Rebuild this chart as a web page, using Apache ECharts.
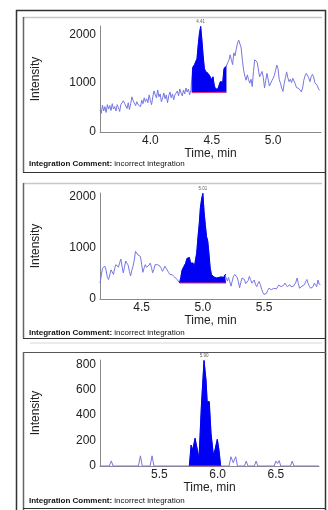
<!DOCTYPE html>
<html><head><meta charset="utf-8">
<script src="https://cdn.jsdelivr.net/npm/echarts@6/dist/echarts.min.js"></script>
<style>html,body{margin:0;padding:0;background:#fff}#c{width:328px;height:510px}</style>
</head><body><div id="c"></div>
<script>
// ---- Panel 1 : [time (min), intensity] ----
const scan1 = [[3.59,450],[3.60,380],[3.61,550],[3.62,430],[3.63,520],[3.64,400],[3.65,560],[3.66,470],[3.67,540],[3.68,440],
[3.69,580],[3.70,470],[3.71,520],[3.72,430],[3.73,560],[3.74,500],[3.75,420],[3.76,560],[3.77,520],[3.78,640],
[3.79,590],[3.80,560],[3.81,480],[3.82,600],[3.83,460],[3.84,580],[3.85,720],[3.86,640],[3.87,600],[3.88,540],
[3.89,620],[3.90,560],[3.91,600],[3.92,520],[3.93,650],[3.94,580],[3.95,700],[3.96,620],[3.97,680],[3.98,600],
[3.99,760],[4.00,650],[4.01,560],[4.02,720],[4.03,840],[4.04,760],[4.05,700],[4.06,860],[4.07,720],[4.08,780],
[4.09,620],[4.10,700],[4.11,800],[4.12,680],[4.13,760],[4.14,600],[4.15,740],[4.16,820],[4.17,700],[4.18,780],
[4.19,660],[4.20,760],[4.21,720],[4.22,840],[4.23,740],[4.24,880],[4.25,800],[4.26,740],[4.27,860],[4.28,780],
[4.29,900],[4.30,820],[4.31,880],[4.32,760],[4.33,850],[4.34,810],[4.345,1320],[4.36,1380],[4.37,1420],[4.38,1500],
[4.39,1780],[4.40,2020],[4.41,2160],[4.42,1880],[4.43,1560],[4.44,1300],[4.45,1240],[4.46,1260],[4.47,1200],[4.48,1230],
[4.49,1120],[4.50,1060],[4.51,1130],[4.52,960],[4.53,880],[4.54,860],[4.55,880],[4.56,900],[4.57,1030],[4.58,1010],
[4.59,1020],[4.60,1300],[4.61,1330],[4.62,1350],[4.63,1420],[4.64,1470],[4.65,1580],[4.66,1480],[4.67,1380],[4.68,1620],
[4.69,1560],[4.70,1700],[4.71,1820],[4.72,1880],[4.73,1910],[4.74,1720],[4.75,1460],[4.76,1260],[4.77,1140],[4.78,1060],
[4.79,1170],[4.80,1070],[4.81,1000],[4.82,1080],[4.83,930],[4.84,1240],[4.85,1480],[4.86,1450],[4.87,1430],[4.88,1420],
[4.89,1130],[4.90,1160],[4.91,1240],[4.92,1120],[4.93,900],[4.94,1060],[4.95,1200],[4.96,1170],[4.97,940],[4.98,960],
[4.99,1050],[5.00,1100],[5.01,1160],[5.02,1260],[5.03,1370],[5.04,1300],[5.05,1070],[5.06,1000],[5.07,900],[5.08,830],
[5.09,990],[5.10,1110],[5.11,1230],[5.12,1110],[5.13,1030],[5.14,1080],[5.15,1010],[5.16,1100],[5.17,1060],[5.18,990],
[5.19,910],[5.20,950],[5.21,890],[5.22,850],[5.23,820],[5.24,900],[5.25,1060],[5.26,1150],[5.27,1200],[5.28,1230],
[5.29,1110],[5.30,1030],[5.31,1130],[5.32,1180],[5.33,1130],[5.34,1010],[5.35,1020],[5.36,950],[5.37,880],[5.38,850]];
const window1 = [4.34, 4.62];      // integration start / end (min)
const baseline1 = [805, 815];      // integration baseline intensity at start / end
const peakLabel1 = '4.41';
const xTicks1 = [4.0, 4.5, 5.0];
const yTicks1 = [0, 1000, 2000];

// ---- Panel 2 ----
const scan2 = [[4.16,310],[4.17,450],[4.18,600],[4.19,620],[4.20,640],[4.21,560],[4.22,420],[4.23,380],[4.24,470],[4.25,570],
[4.26,540],[4.27,480],[4.28,600],[4.29,670],[4.30,650],[4.31,620],[4.32,700],[4.33,780],[4.34,640],[4.35,510],
[4.36,620],[4.37,740],[4.38,700],[4.39,660],[4.40,540],[4.41,450],[4.42,560],[4.43,640],[4.44,760],[4.45,930],
[4.46,900],[4.47,860],[4.48,850],[4.49,830],[4.50,680],[4.51,520],[4.52,600],[4.53,670],[4.54,620],[4.55,600],
[4.56,660],[4.57,700],[4.58,620],[4.59,510],[4.60,580],[4.61,670],[4.62,660],[4.63,670],[4.64,650],[4.65,640],
[4.66,600],[4.67,540],[4.68,580],[4.69,640],[4.70,600],[4.71,570],[4.72,520],[4.73,480],[4.74,500],[4.75,470],
[4.76,500],[4.77,430],[4.78,410],[4.79,380],[4.80,360],[4.81,315],[4.82,420],[4.83,560],[4.84,610],[4.85,640],
[4.86,700],[4.87,790],[4.88,760],[4.89,810],[4.90,700],[4.91,680],[4.92,700],[4.93,620],[4.94,600],[4.95,900],
[4.96,1200],[4.97,1450],[4.98,1780],[4.99,1950],[5.00,2060],[5.01,1700],[5.02,1450],[5.03,1220],[5.04,1130],[5.05,880],
[5.06,600],[5.07,480],[5.08,450],[5.09,430],[5.10,420],[5.11,410],[5.12,400],[5.13,420],[5.14,440],[5.15,430],
[5.16,410],[5.17,420],[5.18,470],[5.19,480],[5.20,350],[5.21,420],[5.22,440],[5.23,250],[5.24,350],[5.25,440],
[5.26,480],[5.27,500],[5.28,420],[5.29,340],[5.30,220],[5.31,320],[5.32,410],[5.33,390],[5.34,380],[5.35,300],
[5.36,280],[5.37,360],[5.38,440],[5.39,380],[5.40,310],[5.41,340],[5.42,370],[5.43,280],[5.44,240],[5.45,300],
[5.46,340],[5.47,280],[5.48,190],[5.49,130],[5.50,90],[5.51,80],[5.52,110],[5.53,170],[5.54,210],[5.55,200],
[5.56,180],[5.57,190],[5.58,210],[5.59,200],[5.60,195],[5.61,230],[5.62,270],[5.63,280],[5.64,240],[5.65,210],
[5.66,270],[5.67,310],[5.68,280],[5.69,240],[5.70,260],[5.71,280],[5.72,240],[5.73,210],[5.74,250],[5.75,260],
[5.76,330],[5.77,410],[5.78,300],[5.79,210],[5.80,230],[5.81,250],[5.82,260],[5.83,280],[5.84,340],[5.85,380],
[5.86,300],[5.87,250],[5.88,210],[5.89,180],[5.90,240],[5.91,310],[5.92,280],[5.93,240],[5.94,370],[5.95,290],[5.96,280]];
const window2 = [4.81, 5.19];
const baseline2 = [312, 312];
const peakLabel2 = '5.01';
const xTicks2 = [4.5, 5.0, 5.5];
const yTicks2 = [0, 1000, 2000];

// ---- Panel 3 ----
const scan3 = [[4.99,0],[5.07,0],[5.087,40],[5.103,0],[5.32,0],[5.337,80],[5.353,0],[5.42,0],[5.437,80],[5.453,0],
[5.757,0],[5.772,165],[5.786,126],[5.806,218],[5.82,205],[5.84,60],[5.86,467],[5.883,830],[5.90,677],[5.91,506],
[5.928,506],[5.943,257],[5.963,87],[5.977,126],[5.997,210],[6.011,126],[6.026,0],[6.098,0],[6.114,73],[6.134,26],
[6.155,73],[6.17,0],[6.23,0],[6.245,39],[6.26,0],[6.315,0],[6.33,39],[6.345,0],[6.485,0],[6.5,39],
[6.514,20],[6.528,42],[6.542,0],[6.625,0],[6.64,39],[6.655,0],[6.87,0]];
const window3 = [5.757, 6.026];
const baseline3 = [0, 0];
const peakLabel3 = '5.90';
const xTicks3 = [5.5, 6.0, 6.5];
const yTicks3 = [0, 200, 400, 600, 800];

const panels = [
  {scan: scan1, win: window1, base: baseline1, label: peakLabel1, xt: xTicks1, yt: yTicks1,
   xr: [3.59, 5.39], yr: [0, 2170], top: 26, h: 106, w: 221, comment: 165},
  {scan: scan2, win: window2, base: baseline2, label: peakLabel2, xt: xTicks2, yt: yTicks2,
   xr: [4.16, 5.965], yr: [0, 2068], top: 193, h: 106, w: 221, comment: 334},
  {scan: scan3, win: window3, base: baseline3, label: peakLabel3, xt: xTicks3, yt: yTicks3,
   xr: [4.99, 6.87], yr: [0, 834], top: 360, h: 106, w: 219, comment: 502}
];

const FONT = '"Liberation Sans", Arial, sans-serif';
const grid = [], xAxis = [], yAxis = [], series = [], graphic = [];

panels.forEach((p, i) => {
  grid.push({left: 100, top: p.top, width: p.w, height: p.h});
  const xStep = p.xt[1] - p.xt[0];
  const yStep = p.yt[1] - p.yt[0];
  xAxis.push({
    type: 'value', gridIndex: i, min: p.xr[0], max: p.xr[1], splitNumber: 4,
    minInterval: xStep, maxInterval: xStep,
    name: 'Time, min', nameLocation: 'middle', nameGap: 15,
    nameTextStyle: {fontFamily: FONT, fontSize: 12, color: '#222'},
    axisLine: {lineStyle: {color: '#8a8a8a', width: 1}},
    axisTick: {show: false}, splitLine: {show: false},
    axisLabel: {fontFamily: FONT, fontSize: 12, color: '#222', margin: 3,
      showMinLabel: true, showMaxLabel: true,
      formatter: v => { const m = p.xt.find(t => Math.abs(t - v) < 1e-6); return m === undefined ? '' : m.toFixed(1); }}
  });
  yAxis.push({
    type: 'value', gridIndex: i, min: p.yr[0], max: p.yr[1],
    minInterval: yStep, maxInterval: yStep, splitNumber: p.yt.length - 1,
    name: 'Intensity', nameLocation: 'middle', nameRotate: 90, nameGap: 58,
    nameTextStyle: {fontFamily: FONT, fontSize: 12, color: '#222'},
    axisLine: {show: true, lineStyle: {color: '#8a8a8a', width: 1}},
    axisTick: {show: false}, splitLine: {show: false},
    axisLabel: {fontFamily: FONT, fontSize: 12, color: '#222', margin: 4,
      formatter: v => { const m = p.yt.find(t => Math.abs(t - v) < 1e-6); return m === undefined ? '' : String(m); }}
  });
  // full trace
  series.push({type: 'line', xAxisIndex: i, yAxisIndex: i, data: p.scan, symbol: 'none',
    lineStyle: {color: '#7676e2', width: 1}, z: 2, silent: true});
  // integrated region
  const inWin = p.scan.filter(d => d[0] >= p.win[0] - 1e-9 && d[0] <= p.win[1] + 1e-9);
  const origin = (p.base[0] + p.base[1]) / 2;
  series.push({type: 'line', xAxisIndex: i, yAxisIndex: i, data: inWin, symbol: 'none',
    lineStyle: {color: '#0000f5', width: 1}, areaStyle: {color: '#0000f5', opacity: 1, origin: origin},
    z: 3, silent: true});
  // baseline
  series.push({type: 'line', xAxisIndex: i, yAxisIndex: i, symbol: 'none',
    data: [[p.win[0], p.base[0]], [p.win[1], p.base[1]]],
    lineStyle: {color: '#e8306a', width: 1}, z: 4, silent: true});
  // apex label
  const apex = inWin.reduce((a, b) => b[1] > a[1] ? b : a);
  series.push({type: 'scatter', xAxisIndex: i, yAxisIndex: i, data: [apex], symbolSize: 1,
    itemStyle: {color: 'rgba(0,0,0,0)'}, z: 5, silent: true,
    label: {show: true, position: 'top', distance: 2, formatter: p.label, fontSize: 4.5,
      fontFamily: FONT, color: '#333'}});
  // comment line
  graphic.push({type: 'text', left: 29, top: p.comment - 5, silent: true,
    style: {text: '{b|Integration Comment:} incorrect integration', fontFamily: FONT, fontSize: 8, fill: '#111',
      rich: {b: {fontWeight: 'bold', fontFamily: FONT, fontSize: 8, fill: '#111'}}}});
});

// report frame decoration
function ln(x1, y1, x2, y2, color, w) {
  graphic.push({type: 'line', silent: true, shape: {x1, y1, x2, y2}, style: {stroke: color, lineWidth: w}});
}
ln(16.5, 10, 16.5, 510, '#333', 1.5);
ln(16, 10.5, 326, 10.5, '#333', 1.5);
ln(325.5, 10, 325.5, 510, '#333', 1.5);
ln(23, 17.5, 322, 17.5, '#c8c8c8', 1.5);
ln(23.5, 17, 23.5, 172, '#666', 1.5);
ln(23, 172.5, 326, 172.5, '#333', 1.2);
ln(23, 183.5, 322, 183.5, '#c8c8c8', 1.5);
ln(23.5, 183, 23.5, 338, '#666', 1.5);
ln(23, 338.5, 326, 338.5, '#333', 1.2);
ln(30, 343, 322, 343, '#d8d8d8', 1);
ln(23, 352.5, 326, 352.5, '#555', 1.2);
ln(23.5, 352, 23.5, 510, '#666', 1.5);
ln(23, 508.5, 326, 508.5, '#333', 1.2);

const chart = echarts.init(document.getElementById('c'), null, {renderer: 'canvas'});
chart.setOption({animation: false, backgroundColor: '#fff', grid, xAxis, yAxis, series, graphic});
</script></body></html>
